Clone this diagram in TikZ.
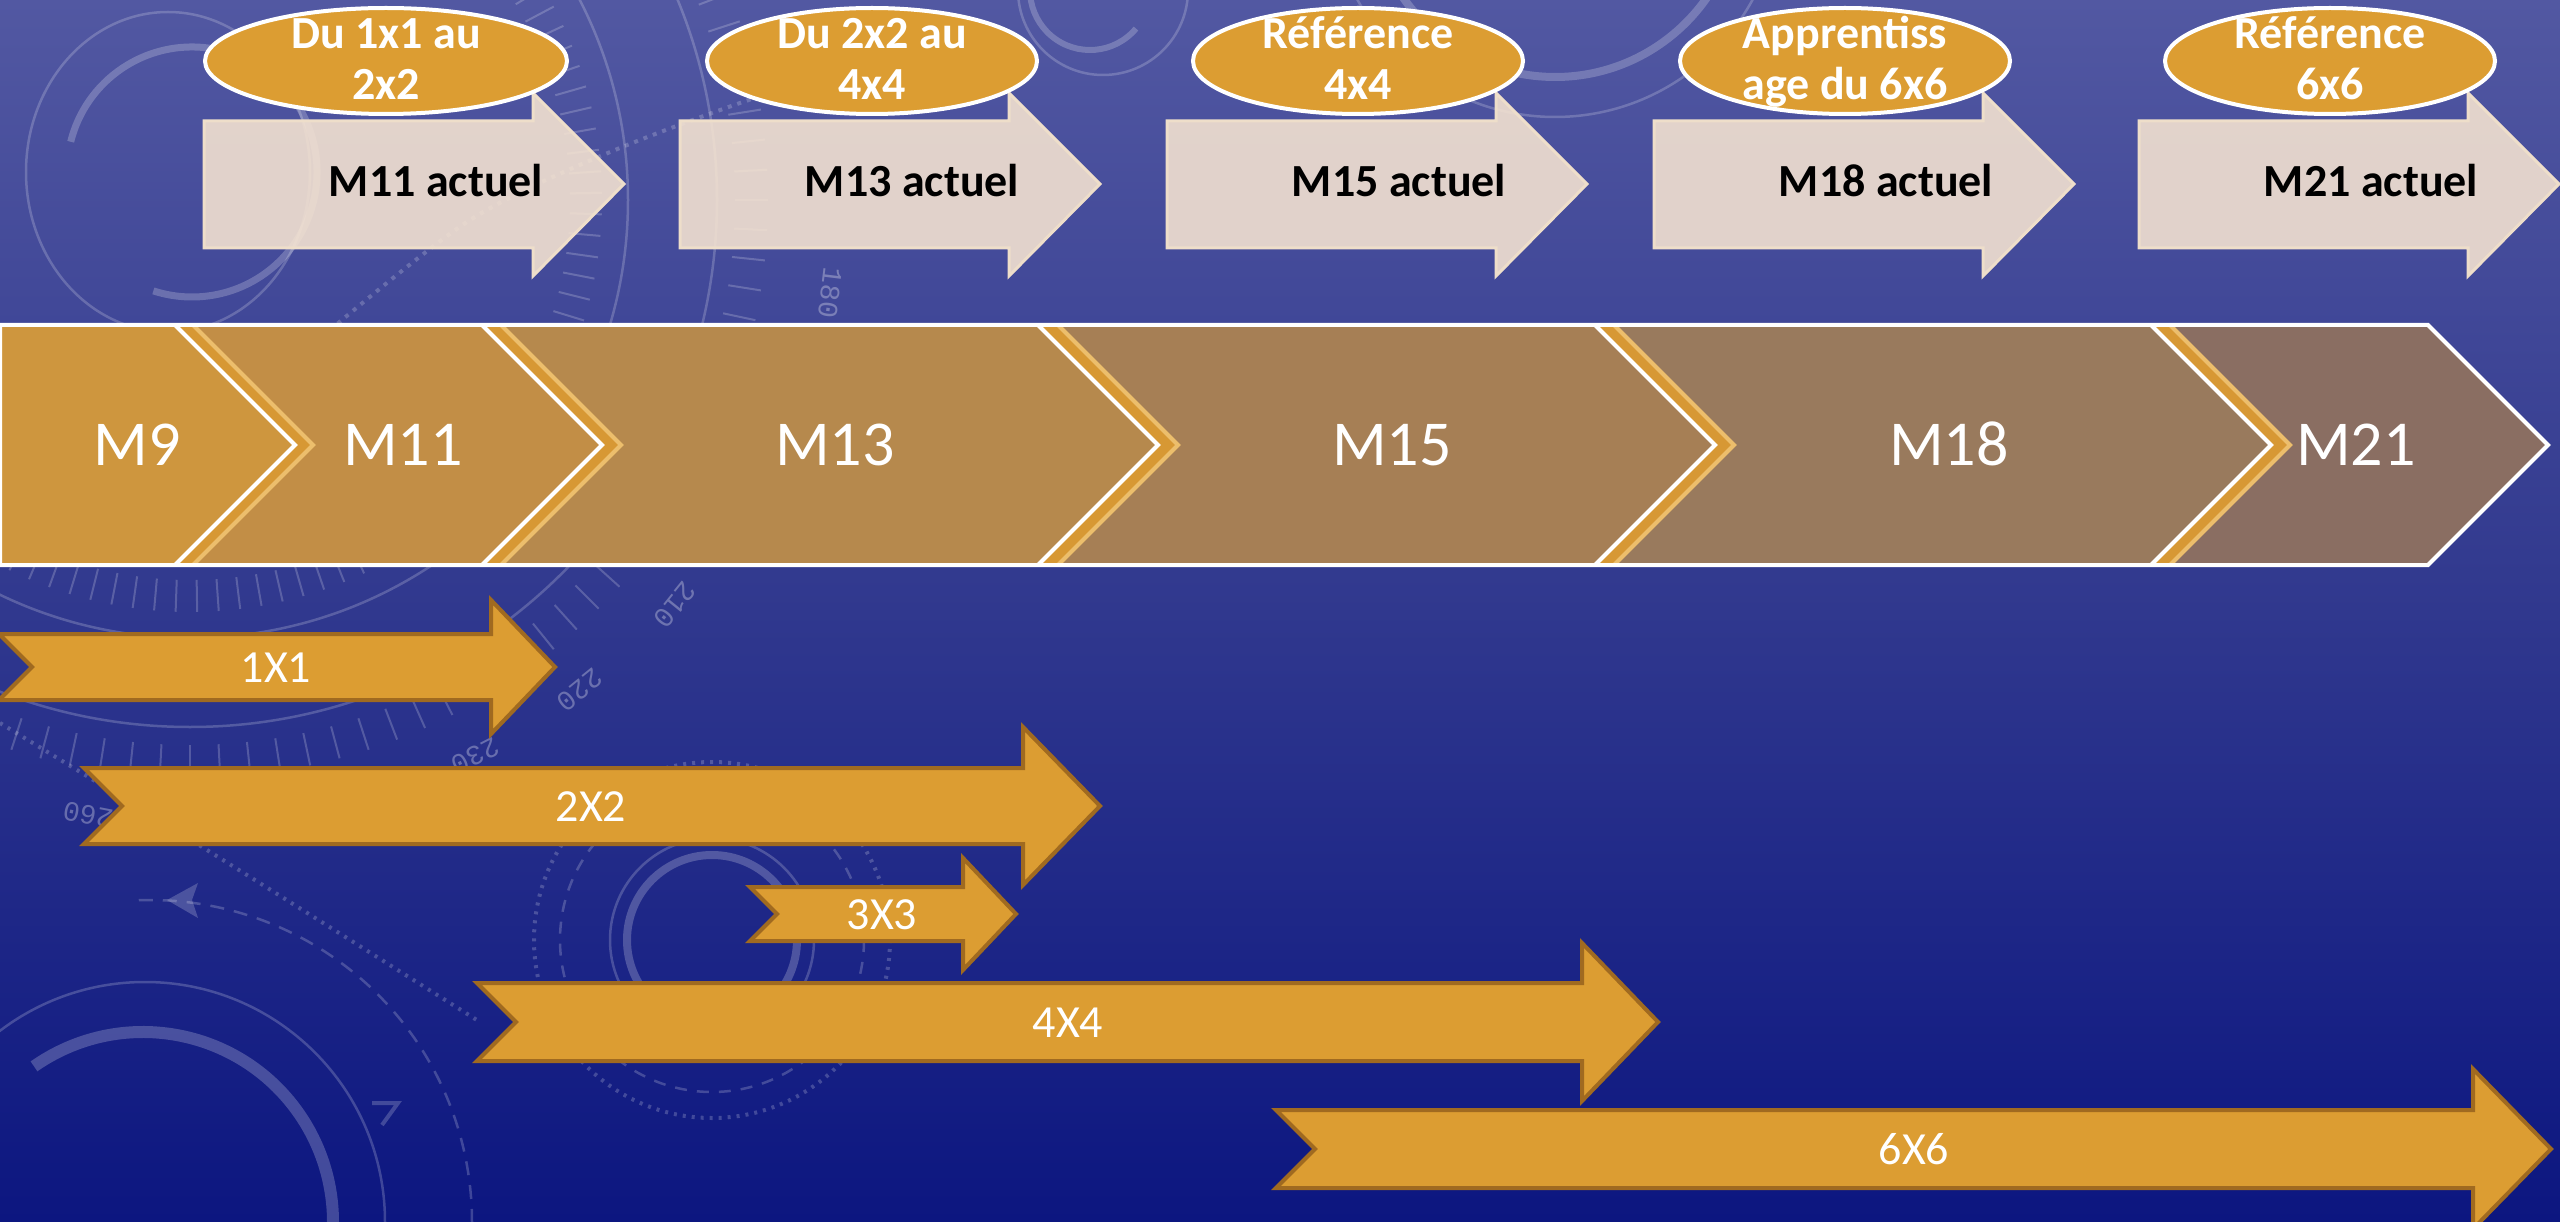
\documentclass[tikz,border=0pt]{standalone}
\usepackage{fontspec}
\usetikzlibrary{shapes.geometric}
\setmainfont{Carlito}
\newfontfamily\dialfont{Liberation Mono}
\definecolor{bgtop}{RGB}{82,88,162}
\definecolor{bgmid}{RGB}{48,56,142}
\definecolor{bgbot}{RGB}{12,22,128}
\definecolor{gold}{RGB}{220,157,50}
\definecolor{goldedge}{RGB}{160,106,32}
\definecolor{pale}{RGB}{247,229,210}
\definecolor{paleedge}{RGB}{238,222,202}
\definecolor{cA}{RGB}{206,150,62}
\definecolor{cB}{RGB}{194,142,70}
\definecolor{cC}{RGB}{182,137,77}
\definecolor{cD}{RGB}{166,127,85}
\definecolor{cE}{RGB}{153,122,93}
\definecolor{cF}{RGB}{138,110,98}
\definecolor{stripe}{RGB}{215,152,52}
\definecolor{stripeline}{RGB}{236,190,108}
\newcommand\PaleArrow[1]{\filldraw[palestyle] (#1,121) -- ({#1+329},121) -- ({#1+329},93) -- ({#1+420},184) -- ({#1+329},276) -- ({#1+329},248) -- (#1,248) -- cycle;}
\newcommand\GoldArrow[6]{\filldraw[goldarrow] (#1,#2) -- (#4,#2) -- (#4,{(#2+#3)/2-#5}) -- (#6,{(#2+#3)/2}) -- (#4,{(#2+#3)/2+#5}) -- (#4,#3) -- (#1,#3) -- ({#1+(#3-#2)/2},{(#2+#3)/2}) -- cycle;}
\newcommand\Chev[3]{\fill[#3] ({#1-120},325) -- ({#2-120},325) -- (#2,445) -- ({#2-120},565) -- ({#1-120},565) -- (#1,445) -- cycle;}
\newcommand\Joint[2]{\fill[stripe] ({#1-120},325) -- ({#2-120},325) -- (#2,445) -- ({#2-120},565) -- ({#1-120},565) -- (#1,445) -- cycle;
 \draw[stripeline,line width=4] ({#2-120},325) -- (#2,445) -- ({#2-120},565);
 \draw[white,line width=4] ({#1-120},325) -- (#1,445) -- ({#1-120},565);}
\begin{document}
\begin{tikzpicture}[x=1pt,y=-1pt,
  deco/.style={draw=white,draw opacity=0.2,line width=2.5},
  decothick/.style={draw=white,draw opacity=0.22},
  palestyle/.style={fill=pale,fill opacity=0.88,draw=paleedge,draw opacity=1,line width=3},
  goldarrow/.style={fill=gold,draw=goldedge,line width=4},
  bubble/.style={ellipse,fill=gold,draw=white,line width=4,inner sep=0},
  bubtext/.style={anchor=base,text=white,inner sep=0,font={\fontsize{46}{52}\selectfont\bfseries}},
  paletext/.style={anchor=base,text=black,inner sep=0,font={\fontsize{46}{52}\selectfont\bfseries}},
  chevtext/.style={anchor=base,text=white,inner sep=0,font={\fontsize{64}{70}\selectfont}},
  lowtext/.style={anchor=base,text=white,inner sep=0,font={\fontsize{46}{52}\selectfont}},
  dial/.style={text=white,text opacity=0.3,inner sep=0,font={\dialfont\fontsize{28}{30}\selectfont}}]
\useasboundingbox (0,0) rectangle (2560,1222);
\shade[top color=bgtop,bottom color=bgbot,middle color=bgmid] (0,0) rectangle (2560,1222);

% ---- background decorations ----
\draw[deco] (168,172) ellipse [x radius=142, y radius=160];
\draw[decothick,line width=7] ([shift={(194:125)}]192,172) arc[start angle=194,end angle=468,radius=125];
\begin{scope}[shift={(190,200)}]
  \draw[deco] (0,0) circle[radius=438];
  \draw[deco] (0,0) circle[radius=527];
  \foreach \a in {-40,-37,...,150} \draw[deco,line width=2] (\a:380) -- (\a:412);
  \foreach \a in {-30,-27,...,115} \draw[deco,line width=2] (\a:545) -- (\a:578);
\end{scope}
\node[dial,rotate=-97] (dial180) at (830,293) {180};
\node[dial,rotate=-129] (dial210) at (675,605) {210};
\node[dial,rotate=-141] (dial220) at (580,690) {220};
\node[dial,rotate=-153] (dial230) at (475,756) {230};
\node[dial,rotate=-191] (dial260) at (88,815) {260};
\draw[deco,line width=4,dash pattern=on 4pt off 6pt] plot[smooth] coordinates {(330,330) (470,220) (615,150) (800,83) (1000,30)};
\begin{scope}[shift={(712,940)}]
  \draw[decothick,line width=8] (0,0) circle[radius=85];
  \draw[deco] (0,0) circle[radius=102];
  \draw[deco,dash pattern=on 12pt off 10pt] (0,0) circle[radius=152];
  \draw[deco,line width=4,dash pattern=on 3pt off 6pt] (0,0) circle[radius=178];
\end{scope}
\draw[deco] ([shift={(180:240)}]145,1222) arc[start angle=180,end angle=360,radius=240];
\draw[decothick,line width=12] ([shift={(235:190)}]143,1222) arc[start angle=235,end angle=360,radius=190];
\draw[deco,dash pattern=on 14pt off 10pt] ([shift={(268:322)}]150,1222) arc[start angle=268,end angle=360,radius=322];
\fill[white,fill opacity=0.2] (167,900) -- (198,883) -- (192,900) -- (198,918) -- cycle;
\draw[deco,line width=4] (372,1103) -- (398,1103) -- (382,1125);
\draw[deco,line width=4,dash pattern=on 3pt off 6pt] plot[smooth] coordinates {(0,723) (207,850) (480,1022)};
\draw[deco] (1103,-10) circle[radius=85];
\draw[decothick,line width=6] ([shift={(40:60)}]1090,-10) arc[start angle=40,end angle=175,radius=60];
\draw[deco] (1555,-108) circle[radius=225];
\draw[decothick,line width=8] ([shift={(5:185)}]1555,-108) arc[start angle=5,end angle=175,radius=185];

% ---- top pale arrows ----
\PaleArrow{204}
\PaleArrow{680}
\PaleArrow{1167}
\PaleArrow{1654}
\PaleArrow{2139}
\node[paletext] (p1) at (436,197) {M11 actuel};
\node[paletext] (p2) at (912,197) {M13 actuel};
\node[paletext] (p3) at (1399,197) {M15 actuel};
\node[paletext] (p4) at (1886,197) {M18 actuel};
\node[paletext] (p5) at (2371,197) {M21 actuel};

% ---- bubbles ----
\node[bubble,minimum width=362,minimum height=106] (e1) at (386,61) {};
\node[bubble,minimum width=330,minimum height=106] (e2) at (872,61) {};
\node[bubble,minimum width=330,minimum height=106] (e3) at (1358,61) {};
\node[bubble,minimum width=330,minimum height=106] (e4) at (1845,61) {};
\node[bubble,minimum width=330,minimum height=106] (e5) at (2330,61) {};
\node[bubtext] (e1a) at (386,49) {Du 1x1 au};
\node[bubtext] (e1b) at (386,100) {2x2};
\node[bubtext] (e2a) at (872,49) {Du 2x2 au};
\node[bubtext] (e2b) at (872,100) {4x4};
\node[bubtext] (e3a) at (1358,49) {Référence};
\node[bubtext] (e3b) at (1358,100) {4x4};
\node[bubtext] (e4a) at (1845,49) {Apprentiss};
\node[bubtext] (e4b) at (1845,100) {age du 6x6};
\node[bubtext] (e5a) at (2330,49) {Référence};
\node[bubtext] (e5b) at (2330,100) {6x6};

% ---- chevron band ----
\fill[cA] (0,325) -- (175,325) -- (295,445) -- (175,565) -- (0,565) -- cycle;
\Chev{313}{602}{cB}
\Chev{621}{1158}{cC}
\Chev{1178}{1715}{cD}
\Chev{1734}{2271}{cE}
\Chev{2290}{2548}{cF}
\Joint{295}{313}
\Joint{602}{621}
\Joint{1158}{1178}
\Joint{1715}{1734}
\Joint{2271}{2290}
\draw[white,line width=4] (0,325) -- (2428,325) -- (2548,445) -- (2428,565) -- (0,565) -- cycle;
\node[chevtext] (m9) at (137,465) {M9};
\node[chevtext] (m11) at (403,465) {M11};
\node[chevtext] (m13) at (835,465) {M13};
\node[chevtext] (m15) at (1392,465) {M15};
\node[chevtext] (m18) at (1949,465) {M18};
\node[chevtext] (m21) at (2356,465) {M21};

% ---- lower gold arrows ----
\GoldArrow{-1}{634}{700}{491}{67}{555}
\GoldArrow{84}{768}{844}{1023}{79}{1100}
\GoldArrow{750}{887}{941}{963}{56}{1016}
\GoldArrow{477}{983}{1061}{1582}{79}{1658}
\GoldArrow{1276}{1110}{1188}{2473}{80}{2551}
\node[lowtext] (a1) at (276,682) {1X1};
\node[lowtext] (a2) at (591,821) {2X2};
\node[lowtext] (a3) at (882,929) {3X3};
\node[lowtext] (a4) at (1068,1037) {4X4};
\node[lowtext] (a6) at (1914,1164) {6X6};
\end{tikzpicture}
\end{document}
